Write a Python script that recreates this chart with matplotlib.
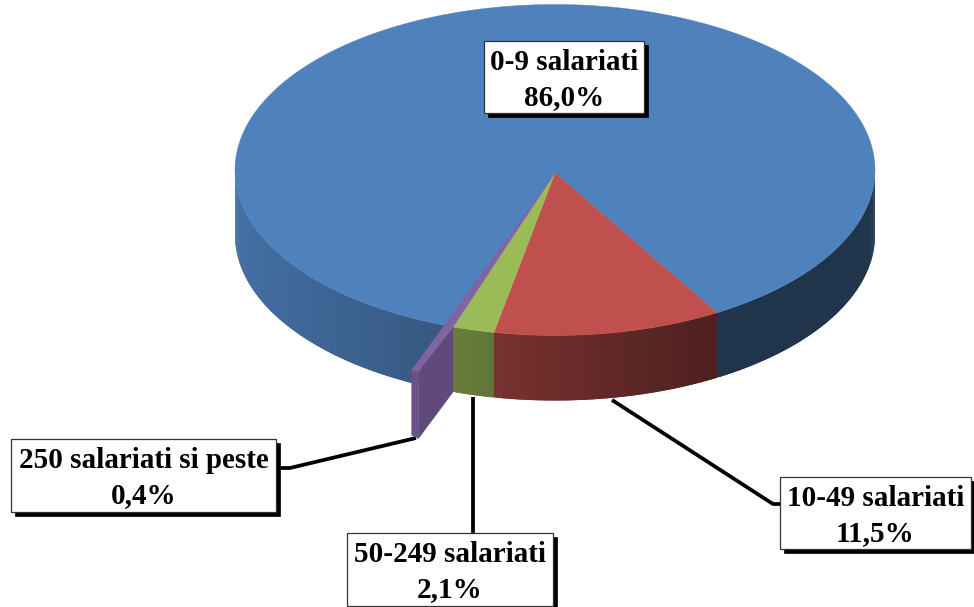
import numpy as np
import matplotlib
matplotlib.use("Agg")
import matplotlib.pyplot as plt
from matplotlib.patches import Rectangle

# Data
categories = ["0-9 salariati", "10-49 salariati", "50-249 salariati", "250 salariati si peste"]
shares = [86.0, 11.5, 2.1, 0.4]
share_labels = ["86,0%", "11,5%", "2,1%", "0,4%"]
colors = ["#4f81bd", "#c0504d", "#9bbb59", "#8064a2"]

plt.rcParams['font.family'] = ['Liberation Serif', 'DejaVu Serif']

# Pie geometry in pixels
cx, cy = 555, 170
apex_y = 173
rx, ry = 320, 165.5
depth = 65
start = 59.6  # the red slice starts here, clockwise on screen
pull = 1.29   # the purple slice sticks out of the pie


def ellipse(t, r=1.0):
    t = np.radians(t)
    return cx + r * rx * np.cos(t), cy + r * ry * np.sin(t)


def shade(x):
    # side walls get darker from left to right
    return np.interp(x, [235, 445, 495, 718, 875], [0.86, 0.68, 0.62, 0.40, 0.40])


def side_color(color, x):
    return tuple(np.array(matplotlib.colors.to_rgb(color)) * shade(x))


def draw_side(ax, t0, t1, color):
    # strips overlap the next one so no seams show between them
    ts = np.linspace(t0, t1, max(3, int(abs(t1 - t0) * 2) + 1))
    for i in range(len(ts) - 1):
        a, b = ts[i], ts[i + 1]
        xa, ya = ellipse(a)
        xb, yb = ellipse(b)
        e = ts[max(i - 1, 0)]
        xe, ye = ellipse(e)
        c = side_color(color, (xa + xb) / 2)
        ax.fill([xe, xa, xb, xb, xa, xe], [ye, ya, yb, yb + depth, ya + depth, ye + depth],
                color=c, lw=0, zorder=2)


def draw_top(ax, t0, t1, color):
    ts = np.linspace(t0, t1, 400)
    xs, ys = ellipse(ts)
    ax.fill(np.r_[cx, xs], np.r_[apex_y, ys], color=color, lw=0.3, zorder=3)


fig = plt.figure(figsize=(9.74, 6.07), dpi=100)
ax = fig.add_axes([0, 0, 1, 1])
ax.set_xlim(0, 974)
ax.set_ylim(607, 0)
ax.axis("off")

sweeps = [s * 3.6 for s in shares]
red_end = start + sweeps[1]
green_end = red_end + sweeps[2]
blue_start = green_end + sweeps[3]

# Side walls, right to left so the overlap runs one way
draw_side(ax, 0, start, colors[0])
draw_side(ax, blue_start, 180, colors[0])
draw_side(ax, start, red_end, colors[1])
draw_side(ax, red_end, green_end, colors[2])

# Top faces
draw_top(ax, blue_start, 360 + start, colors[0])
draw_top(ax, start, red_end, colors[1])
draw_top(ax, red_end, green_end, colors[2])

# Purple slice, drawn narrower than its true share like the original
p0 = green_end + 0.75
p1 = p0 + sweeps[3] * 0.7
x0, y0 = ellipse(green_end, 1.0)
x1, y1 = ellipse(p0, pull)
x2, y2 = ellipse(p1, pull)
ax.fill([x0, x1, x1, x0], [y0, y1, y1 + depth + 2, y0 + depth], color="#5f4a7a", lw=0.3, zorder=4)
ax.fill([x2, x1, x1, x2], [y2, y1, y1 + depth + 2, y2 + depth], color="#6a5288", lw=0.3, zorder=4)
ax.fill([cx, x2, x1, x0], [apex_y, y2, y1, y0], color=colors[3], lw=0.3, zorder=5)

# Leader lines
leaders = [
    ([612, 773, 780], [400, 504, 504]),
    ([473, 473], [397, 533]),
    ([278, 290, 416], [468, 468, 438]),
]
for lx, ly in leaders:
    ax.plot(lx, ly, color="black", lw=2.7, zorder=1, solid_capstyle="butt", solid_joinstyle="round")

# Label boxes: category order, left, top, right, bottom
boxes = [
    (484, 41, 644, 113),
    (780, 477, 971, 549),
    (347, 533, 553, 606),
    (11, 439, 276, 512),
]
for name, pct, (l, t, r, b) in zip(categories, share_labels, boxes):
    ax.add_patch(Rectangle((l + 4, t + 4), r - l, b - t, fc="black", ec="black", lw=0.5, zorder=6))
    ax.add_patch(Rectangle((l, t), r - l, b - t, fc="white", ec="#333333", lw=0.9, zorder=7))
    xm = (l + r) / 2
    ax.text(xm, t + 22, name, ha="center", va="center", fontsize=21, fontweight="bold", color="black", zorder=8)
    ax.text(xm, t + 57, pct, ha="center", va="center", fontsize=21, fontweight="bold", color="black", zorder=8)

plt.savefig("out.png", dpi=100)
